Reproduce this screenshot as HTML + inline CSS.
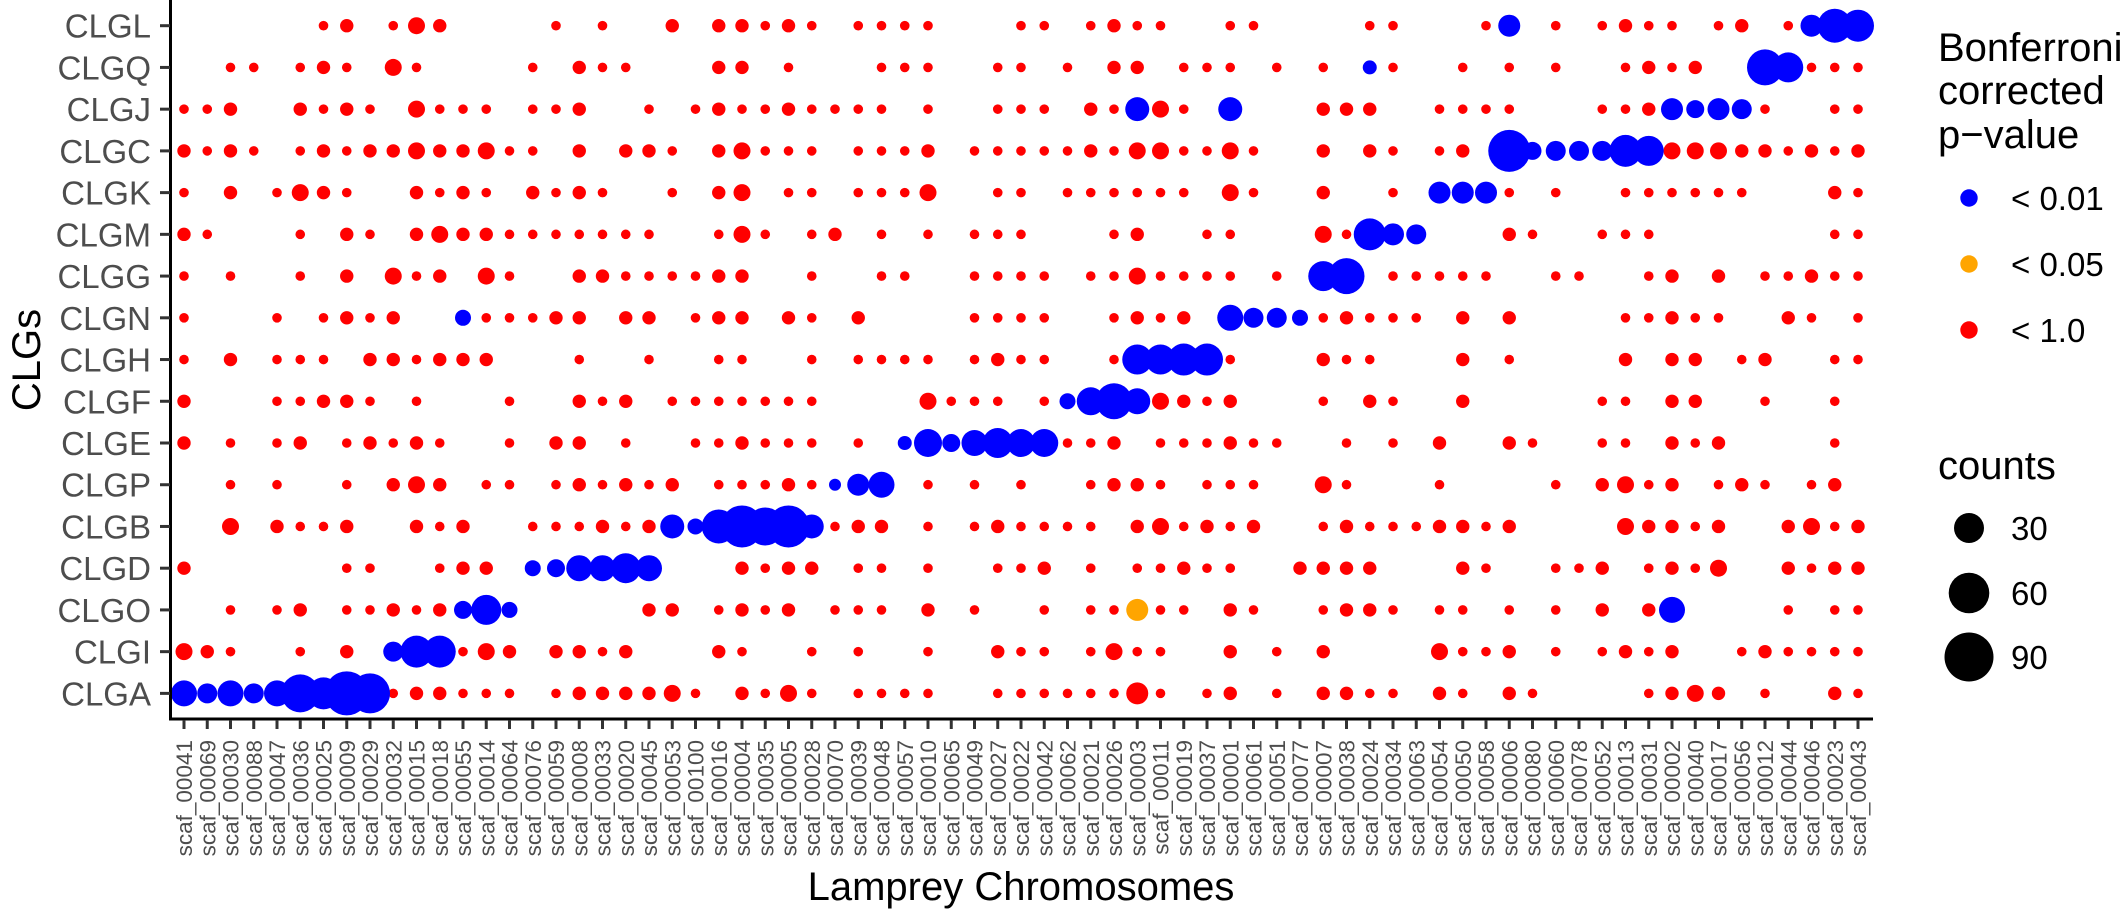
<!DOCTYPE html>
<html><head><meta charset="utf-8">
<style>
html,body{margin:0;padding:0;background:#fff;}
svg{display:block;font-family:"Liberation Sans",Arial,sans-serif;}
</style></head>
<body>
<svg id="s" width="2126" height="916" viewBox="0 0 2126 916" xmlns="http://www.w3.org/2000/svg">
<rect width="2126" height="916" fill="#fff"/>
<g id="dots"></g>
<line x1="170.5" y1="0" x2="170.5" y2="720" stroke="#000" stroke-width="3"/>
<line x1="169" y1="719" x2="1873" y2="719" stroke="#000" stroke-width="3"/>
<g id="ticks" stroke="#333" stroke-width="3"></g>
<g id="ylab" font-size="33" fill="#4d4d4d" text-anchor="end">
<text>CLGL</text><text>CLGQ</text><text>CLGJ</text><text>CLGC</text><text>CLGK</text><text>CLGM</text><text>CLGG</text><text>CLGN</text><text>CLGH</text><text>CLGF</text><text>CLGE</text><text>CLGP</text><text>CLGB</text><text>CLGD</text><text>CLGO</text><text>CLGI</text><text>CLGA</text>
</g>
<g id="xlab" font-size="22.5" fill="#4d4d4d" text-anchor="end">
<text>scaf_00041</text><text>scaf_00069</text><text>scaf_00030</text><text>scaf_00088</text><text>scaf_00047</text><text>scaf_00036</text><text>scaf_00025</text><text>scaf_00009</text><text>scaf_00029</text><text>scaf_00032</text><text>scaf_00015</text><text>scaf_00018</text><text>scaf_00055</text><text>scaf_00014</text><text>scaf_00064</text><text>scaf_00076</text><text>scaf_00059</text><text>scaf_00008</text><text>scaf_00033</text><text>scaf_00020</text><text>scaf_00045</text><text>scaf_00053</text><text>scaf_00100</text><text>scaf_00016</text><text>scaf_00004</text><text>scaf_00035</text><text>scaf_00005</text><text>scaf_00028</text><text>scaf_00070</text><text>scaf_00039</text><text>scaf_00048</text><text>scaf_00057</text><text>scaf_00010</text><text>scaf_00065</text><text>scaf_00049</text><text>scaf_00027</text><text>scaf_00022</text><text>scaf_00042</text><text>scaf_00062</text><text>scaf_00021</text><text>scaf_00026</text><text>scaf_00003</text><text>scaf_00011</text><text>scaf_00019</text><text>scaf_00037</text><text>scaf_00001</text><text>scaf_00061</text><text>scaf_00051</text><text>scaf_00077</text><text>scaf_00007</text><text>scaf_00038</text><text>scaf_00024</text><text>scaf_00034</text><text>scaf_00063</text><text>scaf_00054</text><text>scaf_00050</text><text>scaf_00058</text><text>scaf_00006</text><text>scaf_00080</text><text>scaf_00060</text><text>scaf_00078</text><text>scaf_00052</text><text>scaf_00013</text><text>scaf_00031</text><text>scaf_00002</text><text>scaf_00040</text><text>scaf_00017</text><text>scaf_00056</text><text>scaf_00012</text><text>scaf_00044</text><text>scaf_00046</text><text>scaf_00023</text><text>scaf_00043</text>
</g>
<text x="1021" y="900" font-size="40" text-anchor="middle" fill="#000">Lamprey Chromosomes</text>
<text transform="translate(40,360) rotate(-90)" font-size="40" text-anchor="middle" fill="#000">CLGs</text>
<g font-size="40" fill="#000">
<text x="1938" y="61">Bonferroni</text>
<text x="1938" y="104">corrected</text>
<text x="1938" y="148">p−value</text>
<text x="1938" y="479">counts</text>
</g>
<circle cx="1969" cy="198" r="8.7" fill="#0000FF"/>
<circle cx="1969" cy="264" r="8.7" fill="#FFA500"/>
<circle cx="1969" cy="330" r="8.7" fill="#FF0000"/>
<circle cx="1969" cy="528" r="15" fill="#000"/>
<circle cx="1969" cy="593" r="20.3" fill="#000"/>
<circle cx="1969" cy="657" r="24.5" fill="#000"/>
<g font-size="33" fill="#000">
<text x="2011" y="210">&lt; 0.01</text>
<text x="2011" y="276">&lt; 0.05</text>
<text x="2011" y="342">&lt; 1.0</text>
<text x="2011" y="540">30</text>
<text x="2011" y="605">60</text>
<text x="2011" y="669">90</text>
</g>
</svg>
<script>
(function(){
var NS="http://www.w3.org/2000/svg";
function X(j){return 184+23.25*j;}
function Y(i){return 25.7+41.73*i;}
var red=[
"6 7m 9 10l 11m 16 18 21m 23m 24m 25 26m 27 29 30 31 32 36 37 39 40m 41 42 45 46 51 52 56 59 61 62m 63 64 66 67m 69",
"2 3 5 6m 7 9l 10 15 17m 18 19 23m 24m 26 30 31 32 35 36 38 40m 41m 43 44 45 47 49 52 55 57 59 62 63m 64 65m 70 71 72",
"0 1 2m 5m 6 7m 8 10l 11 12 13 15 16 17m 20 22 23m 24 25 26m 27 28 29 30 32 35 36 37 39m 40 42l 43 49m 50m 51m 54 55 56 57 61 62 63m 68 71 72",
"0m 1 2m 3 5 6m 7 8m 9m 10l 11m 12m 13l 14 15 17m 19m 20m 21 23m 24l 25 26 27 29 30 31 32m 34 35 36 37 38 39m 40 41l 42l 43 44 45l 46 49m 51m 52 54 55m 64l 65l 66l 67m 68m 69 70m 71 72m",
"0 2m 4 5l 6m 7 10m 11 12m 13 15m 16 17m 18 21 23m 24l 26 27 29 30 31 32l 35 36 38 39 40 41 42 43 45l 46 49m 52 57 59 62 63 64 65 66 67 71m 72",
"0m 1 5 7m 8 10m 11l 12m 13m 14 15 16 17 18 19 20 23 24l 25 27 28m 30 32 34 35 36 40 41m 44 45 49l 50 57m 58 61 62 63 71 72",
"0 2 5 7m 9l 10 11m 13l 14 17m 18m 19 20 21 22 23m 24m 27 30 31 34 35 36 37 39 40 41l 42 43 44 45 47 52 53 54 55 56 59 60 63 64m 66m 68 69 70m 71 72",
"0 4 6 7m 8 9m 13 14 15 16m 17m 19m 20m 22 23m 24m 26m 27 29m 34 35 36 37 40 41m 42 43m 49 50m 51 52 53 55m 57m 62 63 64m 65 66 69m 70 72",
"0 2m 4 5 6 8m 9m 10 11m 12m 13m 17 20 23 24 27 29 30 31 32 34 35m 36 37 40 45 49m 50 51 55m 57 62m 64m 65m 67 68m 71 72",
"0m 4 5 6m 7m 8 10 14 17m 18 19m 21 22 23 24 25 26 27 32l 33 34 35 37 42l 43m 44 45m 49 51m 52 55m 61 62 64m 65m 68 71",
"0m 2 4 5m 7 8m 9 10m 11 14 16m 17m 19 22 23 24m 25 26 27 29 38 39 40m 42 43 44 45m 46 47 50 52 54m 57m 58 61 62 64m 65 66m 71",
"2 4 7 9m 10l 11m 13 14 16 17m 18 19m 20 21m 23 24 25 26m 27 32 34 36 39 40m 41m 42 44 45 46 49l 50 54 59 61m 62l 63 64m 66 67m 68 70 71m",
"2l 4m 5 6 7m 10m 11 12m 15 16 17 18m 19 20m 28 29m 30m 32 34 35m 36 37 38 39 41m 42l 43 44m 45 46m 49 50m 51 52 53 54m 55m 56 57m 62l 63m 64m 65 66m 69m 70l 71 72m",
"0m 7 8 11 12m 13m 24m 25 26m 27m 29 30 32 35 36 37m 39 41 42 43m 44 45 48m 49m 50m 51m 55m 56 59 60 61m 63 64m 65 66l 69m 70 71m 72m",
"2 4 5m 7 8 9m 10 11m 20m 21m 23 24m 25 26m 28 29 30 32m 34 37 39 40 42 43 45m 46 49 50m 51m 52 54 55 57 59 61m 63m 69 71 72",
"0l 1m 2 5 7m 12 13l 14m 16m 17m 18 19m 23m 24 27 29 32 35m 36 37 39 40l 41 42 45m 47 49m 54l 55 56 57m 59 61 62m 63 64m 67 68m 69 70 71 72",
"9 10m 11m 12 13 14 16 17m 18m 19m 20m 21l 22 24m 25 26l 27 29 30 31 32 35 36 37 38 39 40 41x 42 44 45m 47 49m 50m 51 52 54m 55 57m 58 63 64m 65l 66m 68 71m 72"
];
var R={"":4.8,"m":6.7,"l":8.5,"x":11};
var blue=[
[1,51,7],[1,68,18],[1,69,15],
[0,57,11],[0,70,11],[0,71,17],[0,72,16],
[2,41,12],[2,45,12],[2,64,11],[2,65,9],[2,66,11],[2,67,10],
[3,57,21],[3,58,9],[3,59,10],[3,60,10],[3,61,10],[3,62,16],[3,63,15],
[4,54,11],[4,55,11],[4,56,11],
[5,51,16],[5,52,11],[5,53,10],
[6,49,15],[6,50,18],
[7,12,8],[7,45,13],[7,46,10],[7,47,10],[7,48,8],
[8,41,15],[8,42,15],[8,43,16],[8,44,16],
[9,38,8],[9,39,14],[9,40,18],[9,41,13],
[10,31,7],[10,32,14],[10,33,9],[10,34,13],[10,35,15],[10,36,14],[10,37,14],
[11,28,6],[11,29,11],[11,30,13],
[12,21,12],[12,22,8],[12,23,17],[12,24,21],[12,25,19],[12,26,21],[12,27,12],
[13,15,8],[13,16,9],[13,17,13],[13,18,13],[13,19,15],[13,20,13],
[14,12,9],[14,13,15],[14,14,8],[14,64,13],
[15,9,10],[15,10,16],[15,11,16],
[16,0,13],[16,1,10],[16,2,13],[16,3,10],[16,4,13],[16,5,19],[16,6,16],[16,7,22],[16,8,20]
];
var g=document.getElementById("dots");
function c(x,y,r,f){var e=document.createElementNS(NS,"circle");e.setAttribute("cx",x);e.setAttribute("cy",y);e.setAttribute("r",r);e.setAttribute("fill",f);g.appendChild(e);}
red.forEach(function(s,i){s.split(" ").forEach(function(t){var m=t.match(/^(\d+)([mlx]?)$/);if(!m)return;c(X(+m[1]),Y(i),R[m[2]],"#FF0000");});});
c(X(41),Y(14),11,"#FFA500");
blue.forEach(function(b){c(X(b[1]),Y(b[0]),b[2],"#0000FF");});
var tk=document.getElementById("ticks");
function ln(x1,y1,x2,y2){var e=document.createElementNS(NS,"line");e.setAttribute("x1",x1);e.setAttribute("y1",y1);e.setAttribute("x2",x2);e.setAttribute("y2",y2);tk.appendChild(e);}
for(var i=0;i<17;i++)ln(160,Y(i),170,Y(i));
for(var j=0;j<73;j++)ln(X(j),720,X(j),729);
var yl=document.getElementById("ylab").getElementsByTagName("text");
for(var i=0;i<yl.length;i++){yl[i].setAttribute("x",151);yl[i].setAttribute("y",Y(i)+12);}
var xl=document.getElementById("xlab").getElementsByTagName("text");
for(var j=0;j<xl.length;j++){xl[j].setAttribute("transform","translate("+(X(j)+8)+",740) rotate(-90)");}
})();
</script>
</body></html>
